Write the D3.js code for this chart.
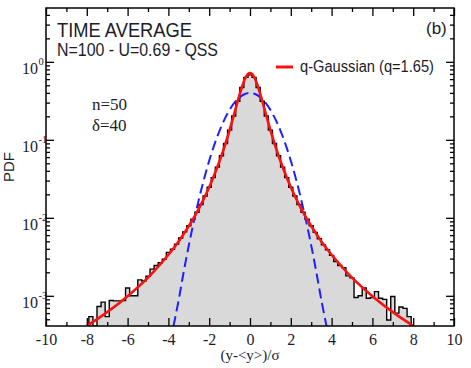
<!DOCTYPE html>
<html>
<head>
<meta charset="utf-8">
<script src="https://cdn.jsdelivr.net/npm/d3@7"></script>
<style>
  html, body { margin: 0; padding: 0; background: #fff; }
  svg { display: block; }
</style>
</head>
<body>
<svg id="chart" width="471" height="368"></svg>
<script>
// Histogram of the time-averaged variable: bins of width 0.2 starting at -7.9
const binStart = -7.9;
const binWidth = 0.2;
const binDensity = [
  5.4e-4, 3.0e-4, 7.3e-4, 8.3e-4, 5.4e-4, 8.7e-4, 8.6e-4, 8.6e-4, 8.7e-4, 1.26e-3,
  1.0e-3, 1.0e-3, 1.6e-3, 1.55e-3, 1.78e-3, 2.2e-3, 2.45e-3, 2.65e-3, 2.95e-3, 3.6e-3,
  3.95e-3, 4.6e-3, 5.5e-3, 6.6e-3, 7.9e-3,
  0.0096, 0.0118, 0.0148, 0.0190, 0.0246, 0.0328, 0.0446, 0.0624, 0.0898, 0.133,
  0.202, 0.312, 0.468, 0.632, 0.68, 0.632, 0.468, 0.312, 0.202, 0.133,
  0.0898, 0.0624, 0.0446, 0.0328, 0.0246, 0.0190, 0.0148, 0.0118, 0.0096,
  7.9e-3, 6.5e-3, 5.4e-3, 4.5e-3, 3.9e-3, 3.3e-3, 2.75e-3, 2.45e-3, 2.3e-3, 1.8e-3,
  1.7e-3, 9.5e-4, 1.0e-3, 1.26e-3, 9.3e-4, 9.5e-4, 1.13e-3, 9.3e-4, 9.0e-4, 4.9e-4,
  9.8e-4, 6.0e-4, 7.2e-4, 6.9e-4, 5.4e-4
];

// q-Gaussian fit (q = 1.65)
const qGaussX = [-8, -7, -6, -5, -4, -3.5, -3, -2.5, -2, -1.5, -1.25, -1, -0.75, -0.5, -0.3, -0.2, -0.1,
                 0, 0.1, 0.2, 0.3, 0.5, 0.75, 1, 1.25, 1.5, 2, 2.5, 3, 3.5, 4, 5, 6, 7, 8];
const qGaussY = [4.12e-4, 6.18e-4, 9.9e-4, 1.71e-3, 3.36e-3, 4.98e-3, 7.84e-3, 0.01325, 0.0247, 0.0527, 0.0819, 0.1336, 0.227, 0.387, 0.559, 0.640, 0.698,
                 0.72, 0.698, 0.640, 0.559, 0.387, 0.227, 0.1336, 0.0819, 0.0527, 0.0247, 0.01325, 7.84e-3, 4.98e-3, 3.36e-3, 1.71e-3, 9.9e-4, 6.18e-4, 4.12e-4];

// Gaussian reference curve
const gaussX = [-3.75, -3.5, -3.25, -3, -2.75, -2.5, -2.25, -2, -1.75, -1.5, -1.25, -1, -0.75, -0.5, -0.25,
                0, 0.25, 0.5, 0.75, 1, 1.25, 1.5, 1.75, 2, 2.25, 2.5, 2.75, 3, 3.25, 3.5, 3.75];
const gaussY = [3.53e-4, 8.73e-4, 2.03e-3, 4.43e-3, 9.09e-3, 0.0175, 0.0317, 0.0540, 0.0863, 0.1295, 0.1826, 0.2420, 0.3011, 0.3521, 0.3867,
                0.3989, 0.3867, 0.3521, 0.3011, 0.2420, 0.1826, 0.1295, 0.0863, 0.0540, 0.0317, 0.0175, 9.09e-3, 4.43e-3, 2.03e-3, 8.73e-4, 3.53e-4];

// Axis ticks
const xMajorTicks = [-10, -8, -6, -4, -2, 0, 2, 4, 6, 8, 10];
const xMinorTicks = [-9, -7, -5, -3, -1, 1, 3, 5, 7, 9];
const yMajorTicks = [1e-3, 1e-2, 1e-1, 1];
const yTickExponents = ["-3", "-2", "-1", "0"];
const yMinorTicks = [5e-4, 6e-4, 7e-4, 8e-4, 9e-4,
                     2e-3, 3e-3, 4e-3, 5e-3, 6e-3, 7e-3, 8e-3, 9e-3,
                     2e-2, 3e-2, 4e-2, 5e-2, 6e-2, 7e-2, 8e-2, 9e-2,
                     0.2, 0.3, 0.4, 0.5, 0.6, 0.7, 0.8, 0.9, 2, 3, 4];

const svg = d3.select("#chart");
const padL = 46, padR = 454, padT = 8, padB = 326;
const serif = "'Liberation Serif', 'Times New Roman', serif";
const sans = "'Liberation Sans', Arial, Helvetica, sans-serif";
const ink = "#1c1c2a";

const x = d3.scaleLinear().domain([-10, 10]).range([padL, padR]);
const y = d3.scaleLog().domain([4.1e-4, 4.9]).range([padB, padT]).clamp(true);

svg.append("defs").append("clipPath").attr("id", "plotClip")
  .append("rect").attr("x", padL).attr("y", padT).attr("width", padR - padL).attr("height", padB - padT);

const plot = svg.append("g").attr("clip-path", "url(#plotClip)");

// step outline of the histogram
const steps = [];
binDensity.forEach((v, i) => {
  const x0 = binStart + i * binWidth;
  steps.push([x0, v], [x0 + binWidth, v]);
});
const floor = 1e-4;
const stepPts = [[binStart, floor], ...steps, [binStart + binDensity.length * binWidth, floor]];

plot.append("path")
  .datum(stepPts)
  .attr("fill", "#d9d9d9")
  .attr("d", d3.area().x(d => x(d[0])).y0(padB).y1(d => y(d[1])));

plot.append("path")
  .datum(stepPts)
  .attr("fill", "none")
  .attr("stroke", "#000")
  .attr("stroke-width", 1.4)
  .attr("d", d3.line().x(d => x(d[0])).y(d => y(d[1])));

// Gaussian (dashed blue)
plot.append("path")
  .datum(d3.zip(gaussX, gaussY))
  .attr("fill", "none")
  .attr("stroke", "#1f1fff")
  .attr("stroke-width", 2)
  .attr("stroke-dasharray", "10,5")
  .attr("d", d3.line().x(d => x(d[0])).y(d => y(d[1])).curve(d3.curveCatmullRom));

// q-Gaussian (red)
plot.append("path")
  .datum(d3.zip(qGaussX, qGaussY))
  .attr("fill", "none")
  .attr("stroke", "#ff1010")
  .attr("stroke-width", 2.6)
  .attr("d", d3.line().x(d => x(d[0])).y(d => y(d[1])).curve(d3.curveCatmullRom));

// axes: ticks point inwards on all four sides
function styleAxis(g) {
  g.select(".domain").remove();
  g.selectAll(".tick line").attr("stroke", "#000").attr("stroke-width", 1.3);
}

svg.append("g").attr("transform", `translate(0,${padB})`)
  .call(d3.axisBottom(x).tickValues(xMajorTicks).tickSize(-8).tickPadding(8).tickFormat(d => d))
  .call(styleAxis)
  .selectAll("text").attr("font-family", serif).attr("font-size", 16).attr("fill", ink);
svg.append("g").attr("transform", `translate(0,${padB})`)
  .call(d3.axisBottom(x).tickValues(xMinorTicks).tickSize(-4).tickFormat(""))
  .call(styleAxis);
svg.append("g").attr("transform", `translate(0,${padT})`)
  .call(d3.axisTop(x).tickValues(xMajorTicks).tickSize(-8).tickFormat(""))
  .call(styleAxis);
svg.append("g").attr("transform", `translate(0,${padT})`)
  .call(d3.axisTop(x).tickValues(xMinorTicks).tickSize(-4).tickFormat(""))
  .call(styleAxis);

svg.append("g").attr("transform", `translate(${padL},0)`)
  .call(d3.axisLeft(y).tickValues(yMajorTicks).tickSize(-8).tickFormat(""))
  .call(styleAxis);
svg.append("g").attr("transform", `translate(${padL},0)`)
  .call(d3.axisLeft(y).tickValues(yMinorTicks).tickSize(-4).tickFormat(""))
  .call(styleAxis);
svg.append("g").attr("transform", `translate(${padR},0)`)
  .call(d3.axisRight(y).tickValues(yMajorTicks).tickSize(-8).tickFormat(""))
  .call(styleAxis);
svg.append("g").attr("transform", `translate(${padR},0)`)
  .call(d3.axisRight(y).tickValues(yMinorTicks).tickSize(-4).tickFormat(""))
  .call(styleAxis);

// y tick labels as 10 with a superscript exponent
yMajorTicks.forEach((v, i) => {
  svg.append("text")
    .attr("x", 38).attr("y", y(v) + 12)
    .attr("text-anchor", "end")
    .attr("font-family", serif).attr("font-size", 16).attr("fill", ink)
    .text("10");
  svg.append("text")
    .attr("x", 38.5).attr("y", y(v) + 3)
    .attr("font-family", serif).attr("font-size", 10.5).attr("fill", ink)
    .text(yTickExponents[i]);
});

// frame
svg.append("rect")
  .attr("x", padL).attr("y", padT).attr("width", padR - padL).attr("height", padB - padT)
  .attr("fill", "none").attr("stroke", "#000").attr("stroke-width", 1.5);

// axis titles
svg.append("text")
  .attr("x", x(0)).attr("y", 360)
  .attr("text-anchor", "middle")
  .attr("font-family", serif).attr("font-size", 15).attr("fill", ink)
  .text("(y-<y>)/σ");

svg.append("text")
  .attr("transform", "translate(14,167) rotate(-90)")
  .attr("text-anchor", "middle")
  .attr("font-family", sans).attr("font-size", 15).attr("fill", ink)
  .text("PDF");

// annotations
svg.append("text")
  .attr("x", 57).attr("y", 37)
  .attr("font-family", sans).attr("font-size", 21).attr("fill", ink)
  .attr("textLength", 135).attr("lengthAdjust", "spacingAndGlyphs")
  .text("TIME AVERAGE");
svg.append("text")
  .attr("x", 57).attr("y", 56)
  .attr("font-family", sans).attr("font-size", 17.5).attr("fill", ink)
  .attr("textLength", 161).attr("lengthAdjust", "spacingAndGlyphs")
  .text("N=100 - U=0.69 - QSS");
svg.append("text")
  .attr("x", 426).attr("y", 34)
  .attr("font-family", sans).attr("font-size", 17).attr("fill", ink)
  .text("(b)");
svg.append("text")
  .attr("x", 92).attr("y", 110)
  .attr("font-family", serif).attr("font-size", 17).attr("fill", ink)
  .text("n=50");
svg.append("text")
  .attr("x", 92).attr("y", 131)
  .attr("font-family", serif).attr("font-size", 17).attr("fill", ink)
  .text("δ=40");

// legend
svg.append("line")
  .attr("x1", 276).attr("x2", 293).attr("y1", 67).attr("y2", 67)
  .attr("stroke", "#ff1010").attr("stroke-width", 3);
svg.append("text")
  .attr("x", 300).attr("y", 72)
  .attr("font-family", sans).attr("font-size", 16).attr("fill", ink)
  .attr("textLength", 134).attr("lengthAdjust", "spacingAndGlyphs")
  .text("q-Gaussian (q=1.65)");
</script>
</body>
</html>
